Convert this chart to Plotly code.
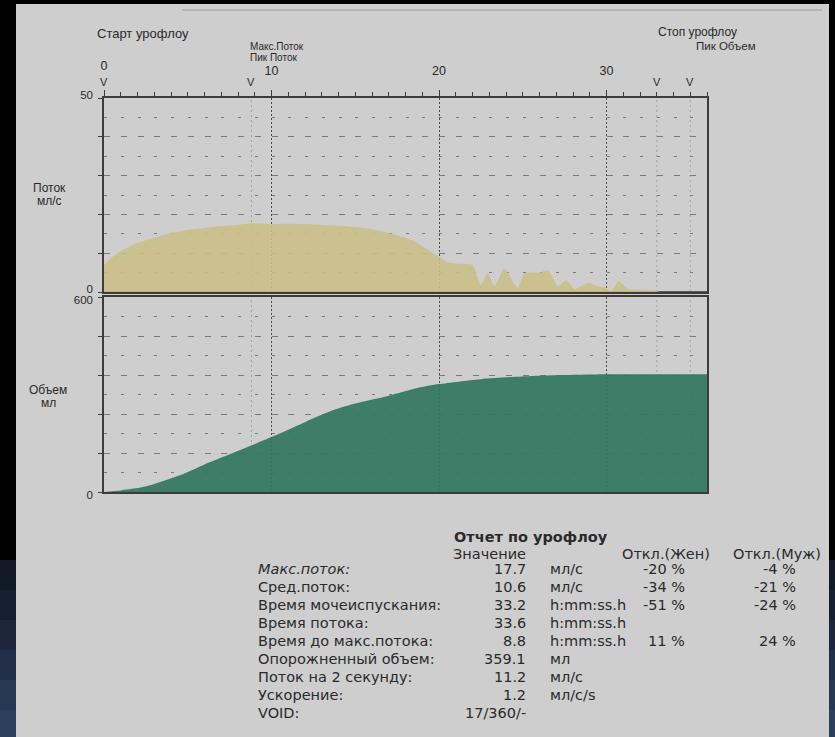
import plotly.graph_objects as go

# ---------------- data ----------------
flow_t = [0, 0.5, 1, 2, 3, 4, 5, 6, 7, 8, 8.8, 10, 11, 12, 13, 14, 15, 16, 17, 18, 18.6, 19.3,
          20, 20.5, 21, 22, 22.5, 22.9, 23.3, 23.9, 24.3, 24.7, 25.1, 26, 26.5, 27.1, 27.6, 28.1,
          28.9, 29.4, 29.9, 30.3, 30.7, 31.3, 32, 32.9, 33.2, 36]
flow_v = [7, 9, 10.5, 12.6, 14, 15.2, 16, 16.5, 17, 17.3, 17.7, 17.5, 17.6, 17.5, 17.3, 17.1, 16.8,
          16.2, 15.2, 14, 12.9, 11, 9, 7.7, 7.3, 7, 1.8, 4.9, 1.5, 6.2, 3.5, 1.0, 4.9, 5.0, 5.6, 1.5,
          3.0, 0.7, 2.4, 1.6, 1.0, 0.3, 2.8, 0.8, 0.6, 0.4, 0, 0]

vol_t = [0, 1, 2, 2.75, 4.7, 6, 7.7, 10, 12, 13.7, 15, 16.7, 18.7, 20, 22.6, 25.6, 30, 33.2, 36]
vol_v = [0, 5, 12, 21, 55, 85, 120, 169, 215, 252, 272, 292, 320, 332, 348, 357, 362, 362, 362]

x_ticks = [0, 10, 20, 30]
x_ticktext = ["", "10", "20", "30"]
x_start_tick = [0]
x_start_text = ["0"]
flow_ticks = [0, 10, 20, 30, 40, 50]
flow_ticktext = ["0", "", "", "", "", "50"]
vol_ticks = [0, 120, 240, 360, 480, 600]
vol_ticktext = ["0", "", "", "", "", "600"]

marker_t = [0, 8.8, 33, 35]          # "V" markers: start, max flow, stop, peak volume

report_title = "Отчет по урофлоу"
report_labels = ["Макс.поток:", "Сред.поток:", "Время мочеиспускания:", "Время потока:",
                 "Время до макс.потока:", "Опорожненный объем:", "Поток на 2 секунду:",
                 "Ускорение:", "VOID:"]
report_values = ["17.7", "10.6", "33.2", "33.6", "8.8", "359.1", "11.2", "1.2", "17/360/-"]
report_units = ["мл/с", "мл/с", "h:mm:ss.h", "h:mm:ss.h", "h:mm:ss.h", "мл", "мл/с", "мл/с/s", ""]
report_fem = ["-20 %", "-34 %", "-51 %", "", "11 %", "", "", "", ""]
report_male = ["-4 %", "-21 %", "-24 %", "", "24 %", "", "", "", ""]

# ---------------- layout geometry ----------------
W, H = 835, 737
L, R, T, B = 104, 707, 98, 492


def fx(px):
    return (px - L) / (R - L)


def fy(py):
    return (B - py) / (B - T)


GRID = "#7a7a7a"
AX = "#3c3c3c"
TXT = "#2a2a2a"
FONT = "Liberation Sans, Arial, sans-serif"
RFONT = "DejaVu Sans, sans-serif"

fig = go.Figure()

fig.add_trace(go.Scatter(
    x=flow_t, y=flow_v, mode="lines", line=dict(width=0, shape="spline", smoothing=0.5),
    fill="tozeroy", fillcolor="rgba(203,190,135,0.88)", xaxis="x", yaxis="y",
    hoverinfo="x+y", showlegend=False))
fig.add_trace(go.Scatter(
    x=vol_t, y=vol_v, mode="lines", line=dict(width=0, shape="spline", smoothing=0.6),
    fill="tozeroy", fillcolor="rgba(50,118,94,0.92)", xaxis="x2", yaxis="y2",
    hoverinfo="x+y", showlegend=False))
# carrier for the raised "0" start label axis
fig.add_trace(go.Scatter(x=x_start_tick, y=[None], xaxis="x3", yaxis="y", mode="lines",
                         hoverinfo="skip", showlegend=False))

flow_dom = [fy(292), 1]
vol_dom = [0, fy(297)]

common_x = dict(range=[0, 36], showgrid=True, gridcolor="#4a4a4a", griddash="2px,2px",
                gridwidth=1, zeroline=False, showline=True, linecolor=AX, linewidth=1.5,
                mirror=True, tickvals=x_ticks)

fig.update_layout(
    width=W, height=H,
    margin=dict(l=L, r=W - R, t=T, b=H - B),
    paper_bgcolor="#000000",
    plot_bgcolor="rgba(0,0,0,0)",
    font=dict(family=FONT, color=TXT, size=12),
    xaxis=dict(common_x, side="top", anchor="y", ticks="outside", ticklen=6, tickcolor=AX,
               ticktext=x_ticktext, ticklabelstandoff=10, tickfont=dict(size=12.5, color=TXT),
               minor=dict(dtick=1, ticks="outside", ticklen=4, tickcolor=AX, showgrid=False)),
    xaxis2=dict(common_x, anchor="y2", matches="x", showticklabels=False, ticks="",
                linewidth=2),
    xaxis3=dict(range=[0, 36], overlaying="x", side="top", anchor="y", showgrid=False,
                showline=False, zeroline=False, ticks="", tickvals=x_start_tick,
                ticktext=x_start_text, ticklabelstandoff=25,
                tickfont=dict(size=12.5, color=TXT)),
    yaxis=dict(domain=flow_dom, range=[0, 50], anchor="x", tickvals=flow_ticks,
               ticktext=flow_ticktext, showgrid=True, gridcolor=GRID, griddash="6px,10.75px",
               gridwidth=1, ticks="outside", ticklen=4, tickcolor=AX,
               minor=dict(dtick=5, showgrid=True, gridcolor=GRID, griddash="3px,13.75px",
                          ticks=""),
               showline=True, linecolor=AX, linewidth=1.5, mirror=True,
               zeroline=True, zerolinecolor="#5a5a5a", zerolinewidth=2,
               tickfont=dict(size=11.5, color=TXT), ticklabelstandoff=3, ticklabelshift=-3),
    yaxis2=dict(domain=vol_dom, range=[0, 600], anchor="x2", tickvals=vol_ticks,
                ticktext=vol_ticktext, showgrid=True, gridcolor=GRID, griddash="6px,10.75px",
                gridwidth=1, ticks="outside", ticklen=4, tickcolor=AX,
                minor=dict(dtick=60, showgrid=True, gridcolor=GRID, griddash="3px,13.75px",
                           ticks=""),
                showline=True, linecolor=AX, linewidth=1.5, mirror=True, zeroline=False,
                tickfont=dict(size=11.5, color=TXT), ticklabelstandoff=3, ticklabelshift=3),
)

shapes = []
# sheet of paper
shapes.append(dict(type="rect", xref="paper", yref="paper", x0=fx(16), x1=fx(829),
                   y0=fy(H + 5), y1=fy(4), fillcolor="#cecece", line=dict(width=0),
                   layer="below"))
# bluish glow at bottom of the dark margins
blues = ["#111826", "#172033", "#1c273c", "#213048", "#263853", "#2b3f5c"]
for i, c in enumerate(blues):
    y0p, y1p = 560 + i * 30, 560 + (i + 1) * 30 if i < len(blues) - 1 else H + 5
    shapes.append(dict(type="rect", xref="paper", yref="paper", x0=fx(-2), x1=fx(16),
                       y0=fy(y1p), y1=fy(y0p), fillcolor=c, line=dict(width=0), layer="below"))
    shapes.append(dict(type="rect", xref="paper", yref="paper", x0=fx(829), x1=fx(W + 2),
                       y0=fy(y1p), y1=fy(y0p), fillcolor=c, line=dict(width=0), layer="below"))
# faint header rule
shapes.append(dict(type="line", xref="paper", yref="paper", x0=fx(182), x1=fx(822),
                   y0=fy(10), y1=fy(10), line=dict(color="#9a9a9a", width=1), layer="below"))
# marker dotted lines
for t in marker_t[1:]:
    shapes.append(dict(type="line", xref="x", yref="paper", x0=t, x1=t, y0=0, y1=1,
                       line=dict(color="#a0a0a0", width=1, dash="2px,3px"), layer="below"))
fig.update_layout(shapes=shapes)

ann = []


def text(px, py, s, anchor="left", size=12, family=FONT, bold=False, italic=False, color=TXT):
    if bold:
        s = "<b>" + s + "</b>"
    if italic:
        s = "<i>" + s + "</i>"
    ann.append(dict(xref="paper", yref="paper", x=fx(px), y=fy(py), text=s, showarrow=False,
                    xanchor=anchor, yanchor="middle", font=dict(size=size, family=family,
                                                                color=color)))


# V markers on the time axis
for t in marker_t:
    ann.append(dict(xref="x", yref="paper", x=t, y=fy(82), text="V", showarrow=False,
                    xanchor="center", yanchor="middle",
                    font=dict(size=11, family=FONT, color=TXT)))

text(95, 34, "Старт урофлоу", size=13)
text(248, 47, "Макс.Поток", size=10)
text(248, 58, "Пик Поток", size=10)
text(656, 32, "Стоп урофлоу", size=12)
text(758, 46, "Пик Объем", anchor="right", size=11.5)
text(49, 188, "Поток", anchor="center", size=12)
text(49, 201, "мл/с", anchor="center", size=12)
text(48, 390, "Объем", anchor="center", size=12)
text(48, 403, "мл", anchor="center", size=12)

# report table
RS = 14.5
text(452, 537, report_title, size=14.5, family=RFONT, bold=True)
text(528, 554, "Значение", anchor="right", size=RS, family=RFONT)
text(620, 554, "Откл.(Жен)", size=RS, family=RFONT)
text(823, 554, "Откл.(Муж)", anchor="right", size=RS, family=RFONT)
for i, lab in enumerate(report_labels):
    py = 569 + i * 18
    text(256, py, lab, size=RS, family=RFONT, italic=(i == 0))
    text(528, py, report_values[i], anchor="right", size=RS, family=RFONT)
    if report_units[i]:
        text(548, py, report_units[i], size=RS, family=RFONT)
    if report_fem[i]:
        text(687, py, report_fem[i], anchor="right", size=RS, family=RFONT)
    if report_male[i]:
        text(798, py, report_male[i], anchor="right", size=RS, family=RFONT)

fig.update_layout(annotations=ann)

fig.write_html(
    "out.html",
    config={"displayModeBar": False},
    post_script="document.body.style.margin='0';document.body.style.overflow='hidden';")
